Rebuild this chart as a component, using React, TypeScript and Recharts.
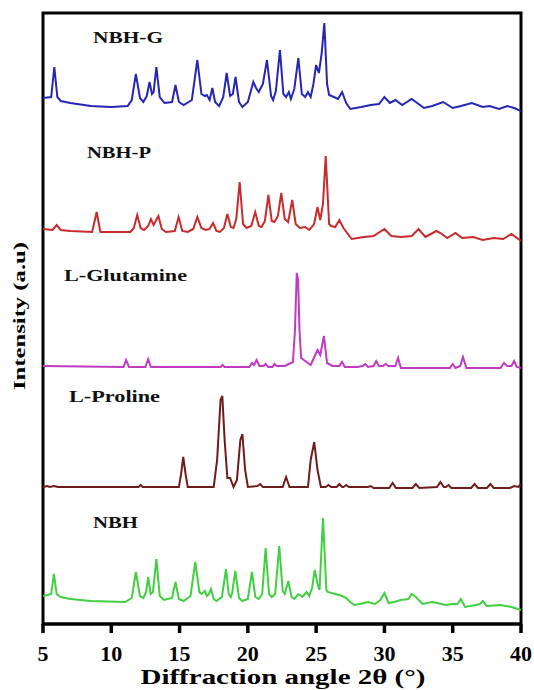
import React from "react";
import { LineChart, Line, XAxis, YAxis, ReferenceArea } from "recharts";

// 2θ ticks
const xTicks = [5, 10, 15, 20, 25, 30, 35, 40];

// NBH-G (stacked intensity, a.u.)
const nbhgAngle = [5.0, 5.6, 5.83, 6.05, 6.3, 7.0, 8.5, 10.0, 11.2, 11.5, 11.8, 12.1, 12.35, 12.6, 12.8, 12.98, 13.1, 13.3, 13.55, 13.9, 14.45, 14.7, 14.95, 15.3, 15.9, 16.3, 16.6, 16.85, 17.0, 17.2, 17.4, 17.6, 17.9, 18.2, 18.45, 18.7, 18.9, 19.1, 19.35, 19.6, 20.0, 20.4, 20.6, 20.8, 21.1, 21.4, 21.7, 21.85, 22.05, 22.35, 22.6, 22.8, 23.0, 23.15, 23.4, 23.7, 23.95, 24.2, 24.4, 24.6, 24.8, 25.0, 25.2, 25.4, 25.6, 25.8, 25.95, 26.3, 26.6, 26.9, 27.2, 27.5, 28.3, 29.0, 29.6, 30.0, 30.4, 30.8, 31.3, 32.0, 32.3, 32.9, 33.5, 34.3, 35.0, 35.6, 36.4, 37.2, 37.7, 38.4, 39.0, 39.5, 40.0];
const nbhgIntensity = [526, 527, 557, 527, 523, 521, 518, 517, 518, 524, 550, 526, 522, 528, 542, 530, 532, 557, 527, 521, 522, 539, 522, 519, 524, 564, 530, 528, 529, 524, 536, 522, 518, 527, 551, 528, 530, 547, 522, 517, 522, 542, 536, 532, 540, 564, 528, 524, 533, 574, 530, 527, 532, 525, 535, 566, 530, 527, 532, 527, 540, 559, 551, 570, 601, 540, 529, 527, 525, 532, 521, 515, 517, 519, 520, 527, 521, 524, 519, 525, 522, 516, 518, 522, 516, 518, 521, 517, 518, 515, 518, 516, 513];

// NBH-P
const nbhpAngle = [5.0, 5.7, 6.0, 6.3, 7.0, 8.6, 8.93, 9.2, 11.4, 11.65, 11.9, 12.15, 12.4, 12.7, 12.9, 13.1, 13.45, 13.7, 14.0, 14.65, 14.93, 15.2, 15.6, 16.0, 16.3, 16.6, 16.9, 17.2, 17.45, 17.7, 17.95, 18.25, 18.5, 18.75, 18.95, 19.15, 19.4, 19.65, 19.9, 20.25, 20.54, 20.8, 21.0, 21.25, 21.5, 21.75, 21.95, 22.2, 22.45, 22.7, 22.95, 23.25, 23.5, 23.8, 24.2, 24.5, 24.85, 25.1, 25.3, 25.5, 25.7, 25.95, 26.1, 26.4, 26.7, 27.0, 27.6, 28.5, 29.2, 30.0, 30.5, 31.2, 32.0, 32.5, 33.0, 33.8, 34.1, 34.6, 35.2, 35.7, 36.5, 37.2, 38.0, 38.7, 39.3, 40.0];
const nbhpIntensity = [395, 394, 399, 394, 393, 392, 412, 392, 392, 396, 409, 396, 394, 398, 405, 399, 408, 395, 392, 393, 407, 393, 392, 395, 407, 396, 394, 395, 401, 393, 392, 396, 410, 397, 396, 405, 442, 400, 396, 398, 412, 398, 397, 403, 429, 403, 402, 408, 431, 405, 402, 424, 400, 396, 397, 394, 400, 417, 404, 420, 468, 400, 398, 397, 404, 396, 385, 387, 388, 395, 388, 387, 388, 395, 387, 393, 391, 386, 391, 386, 387, 384, 386, 385, 390, 383];

// L-Glutamine
const gluAngle = [5.0, 10.9, 11.08, 11.3, 12.5, 12.7, 12.9, 18.0, 18.15, 18.3, 20.1, 20.3, 20.45, 20.64, 20.85, 21.15, 21.3, 21.5, 21.8, 21.95, 22.1, 22.7, 23.3, 23.45, 23.58, 23.68, 23.78, 23.9, 24.3, 24.6, 24.9, 25.1, 25.3, 25.57, 25.8, 26.2, 26.7, 26.9, 27.1, 28.0, 28.4, 28.6, 28.8, 29.2, 29.4, 29.6, 29.9, 30.1, 30.3, 30.8, 31.0, 31.2, 33.0, 34.8, 35.0, 35.2, 35.55, 35.75, 36.0, 38.5, 38.75, 39.0, 39.3, 39.5, 39.7, 40.0];
const gluIntensity = [258, 257, 264, 257, 257, 265, 257, 257, 259, 257, 257, 261, 259, 264, 258, 258, 260, 257, 257, 260, 258, 258, 262, 294, 351, 344, 294, 266, 262, 259, 268, 274, 269, 288, 261, 258, 258, 262, 257, 257, 258, 260, 257, 258, 263, 258, 258, 260, 258, 258, 266, 256, 256, 256, 260, 256, 258, 267, 256, 256, 261, 258, 258, 263, 257, 256];

// L-Proline
const proAngle = [5.0, 5.3, 5.5, 5.8, 6.1, 12.0, 12.15, 12.3, 14.95, 15.1, 15.27, 15.45, 15.6, 17.5, 17.75, 18.0, 18.13, 18.3, 18.5, 18.7, 18.95, 19.2, 19.45, 19.6, 19.8, 20.0, 20.7, 20.9, 21.1, 22.55, 22.8, 23.05, 24.4, 24.6, 24.86, 25.1, 25.35, 25.7, 25.9, 26.1, 26.5, 26.7, 26.9, 27.0, 27.2, 27.4, 28.8, 29.0, 29.2, 30.35, 30.6, 30.85, 32.05, 32.3, 32.55, 33.85, 34.1, 34.35, 34.5, 34.7, 34.9, 36.35, 36.6, 36.85, 37.5, 37.76, 38.0, 39.2, 39.5, 39.8, 40.0];
const proIntensity = [137, 138, 137, 138, 137, 137, 139, 137, 137, 149, 167, 149, 137, 137, 164, 224, 228, 184, 146, 146, 137, 144, 184, 190, 154, 137, 138, 140, 137, 137, 147, 137, 137, 164, 182, 154, 137, 137, 139, 137, 137, 140, 137, 137, 139, 137, 137, 138, 136, 136, 141, 136, 136, 140, 136, 137, 142, 137, 137, 139, 136, 136, 140, 136, 136, 140, 136, 136, 138, 137, 140];

// NBH
const nbhAngle = [5.0, 5.6, 5.8, 6.0, 6.3, 7.0, 8.5, 11.0, 11.5, 11.8, 12.1, 12.35, 12.55, 12.7, 12.88, 13.05, 13.3, 13.55, 13.85, 14.45, 14.7, 14.95, 15.3, 15.8, 16.15, 16.45, 16.6, 16.85, 17.0, 17.15, 17.3, 17.5, 17.7, 18.1, 18.4, 18.6, 18.75, 18.85, 19.08, 19.35, 19.6, 20.0, 20.3, 20.55, 20.8, 21.05, 21.3, 21.55, 21.75, 22.0, 22.3, 22.55, 22.7, 22.96, 23.2, 23.4, 23.7, 24.0, 24.3, 24.5, 24.7, 24.9, 25.1, 25.25, 25.5, 25.75, 25.85, 26.4, 26.9, 27.2, 27.5, 27.8, 28.2, 28.8, 29.3, 29.7, 30.0, 30.3, 30.7, 31.2, 31.75, 32.0, 32.3, 32.8, 33.5, 34.5, 35.0, 35.35, 35.6, 35.9, 36.7, 37.0, 37.2, 37.5, 38.5, 39.3, 40.0];
const nbhIntensity = [28, 30, 50, 30, 27, 25, 23, 22, 26, 52, 28, 26, 32, 47, 30, 32, 65, 28, 24, 26, 42, 25, 23, 28, 62, 32, 30, 33, 28, 30, 35, 25, 23, 27, 55, 30, 27, 31, 53, 26, 23, 25, 52, 27, 25, 30, 76, 30, 27, 30, 78, 33, 30, 43, 27, 25, 30, 27, 32, 28, 36, 54, 40, 34, 106, 34, 32, 30, 28, 26, 22, 19, 20, 22, 20, 24, 31, 21, 22, 24, 25, 30, 27, 20, 22, 19, 20, 20, 25, 17, 19, 20, 23, 18, 19, 17, 14];

const seriesNames = ["NBH-G", "NBH-P", "L-Glutamine", "L-Proline", "NBH"];
const seriesColors = ["#2626b4", "#c92a2a", "#c23ac2", "#6e1c1c", "#40d040"];

const build = (a: number[], v: number[]) => a.map((x, i) => ({ angle: x, value: v[i] }));

const series = [
  build(nbhgAngle, nbhgIntensity),
  build(nbhpAngle, nbhpIntensity),
  build(gluAngle, gluIntensity),
  build(proAngle, proIntensity),
  build(nbhAngle, nbhIntensity),
];

const FONT = "Liberation Serif, Times New Roman, serif";

// label boxes: [x, baseline, textLength]
const labelPos = [
  [93, 43, 70],
  [87, 158, 64],
  [64, 281, 123],
  [69, 402, 91],
  [93, 528, 45],
];

export default function App() {
  return (
    <div style={{ position: "absolute", left: 0, top: 0, width: 534, height: 690, background: "#fff" }}>
      <LineChart
        width={534}
        height={690}
        margin={{ top: 13, right: 13, bottom: 10, left: 43 }}
      >
        <XAxis
          dataKey="angle"
          type="number"
          domain={[5, 40]}
          ticks={xTicks}
          interval={0}
          allowDataOverflow
          height={56}
          tickSize={9}
          tickMargin={12}
          axisLine={{ stroke: "#000", strokeWidth: 3 }}
          tickLine={{ stroke: "#000", strokeWidth: 3.5 }}
          tick={{ fill: "#000", fontFamily: FONT, fontWeight: 700, fontSize: 22 }}
        />
        <YAxis hide type="number" domain={[0, 611]} allowDataOverflow />
        <ReferenceArea
          x1={5}
          x2={40}
          y1={0}
          y2={611}
          fill="none"
          fillOpacity={0}
          stroke="#000"
          strokeWidth={3}
          ifOverflow="visible"
        />
        {series.map((d, i) => (
          <Line
            key={seriesNames[i]}
            data={d}
            dataKey="value"
            type="linear"
            stroke={seriesColors[i]}
            strokeWidth={2}
            dot={false}
            activeDot={false}
            isAnimationActive={false}
          />
        ))}
      </LineChart>
      <svg
        width={534}
        height={690}
        style={{ position: "absolute", left: 0, top: 0, pointerEvents: "none" }}
      >
        {seriesNames.map((n, i) => (
          <text
            key={n}
            x={labelPos[i][0]}
            y={labelPos[i][1]}
            textLength={labelPos[i][2]}
            lengthAdjust="spacingAndGlyphs"
            fontFamily={FONT}
            fontWeight={700}
            fontSize={16}
            fill="#111"
          >
            {n}
          </text>
        ))}
        <text
          x={0}
          y={0}
          transform="translate(25,316) rotate(-90)"
          textAnchor="middle"
          textLength={148}
          lengthAdjust="spacingAndGlyphs"
          fontFamily={FONT}
          fontWeight={700}
          fontSize={17}
          fill="#000"
        >
          Intensity (a.u)
        </text>
        <text
          x={283}
          y={684}
          textAnchor="middle"
          textLength={285}
          lengthAdjust="spacingAndGlyphs"
          fontFamily={FONT}
          fontWeight={700}
          fontSize={22}
          fill="#000"
        >
          Diffraction angle 2θ (°)
        </text>
      </svg>
    </div>
  );
}
